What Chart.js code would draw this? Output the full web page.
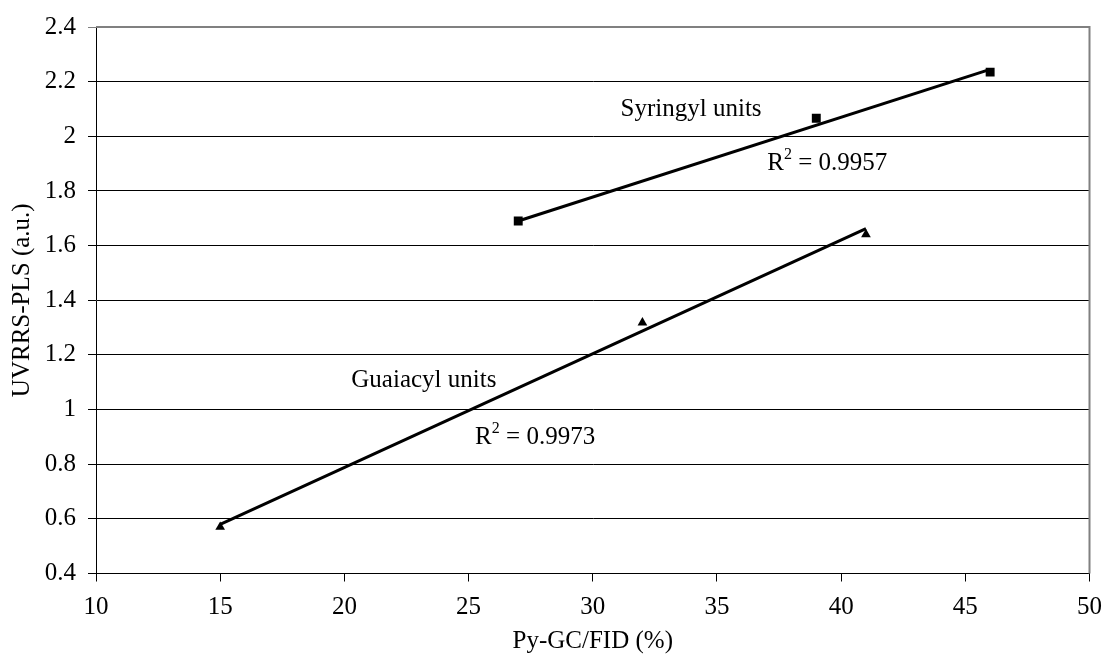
<!DOCTYPE html>
<html>
<head>
<meta charset="utf-8">
<script src="https://cdn.jsdelivr.net/npm/chart.js@4"></script>
<style>
  body { margin: 0; background: #fff; }
  #wrap { width: 1113px; height: 667px; }
</style>
</head>
<body>
<div id="wrap"><canvas id="myChart"></canvas></div>
<script>
// values
const syringylX = [27, 39, 46];
const syringylY = [1.69, 2.066, 2.235];
const guaiacylX = [15, 32, 41];
const guaiacylY = [0.57, 1.318, 1.641];

// linear trend lines (end points as seen on the picture)
const syringylFitX = [27, 46];
const syringylFitY = [1.69, 2.245];
const guaiacylFitX = [15, 41];
const guaiacylFitY = [0.58, 1.662];

const xMin = 10, xMax = 50, xStep = 5;
const yMin = 0.4, yMax = 2.4, yStep = 0.2;

const xTitle = 'Py-GC/FID (%)';
const yTitle = 'UVRRS-PLS (a.u.)';

// text labels in the plot, in data units
const notes = [
  { x: 33.96, y: 2.099, text: 'Syringyl units' },
  { x: 39.44, y: 1.899, r2: '0.9957' },
  { x: 23.2, y: 1.105, text: 'Guaiacyl units' },
  { x: 27.68, y: 0.897, r2: '0.9973' }
];

const FONT = 'Liberation Serif, Times New Roman, serif';

function pts(xs, ys) {
  return xs.map((x, i) => ({ x: x, y: ys[i] }));
}

const notesPlugin = {
  id: 'notes',
  afterDatasetsDraw(chart) {
    const ctx = chart.ctx;
    const sx = chart.scales.x, sy = chart.scales.y;
    ctx.save();
    ctx.fillStyle = '#000';
    ctx.textBaseline = 'middle';
    ctx.textAlign = 'left';
    notes.forEach(n => {
      const px = sx.getPixelForValue(n.x);
      const py = sy.getPixelForValue(n.y);
      const big = '25px ' + FONT, small = '16px ' + FONT;
      if (n.text) {
        ctx.font = big;
        const w = ctx.measureText(n.text).width;
        ctx.fillText(n.text, px - w / 2, py);
      } else {
        const rest = ' = ' + n.r2;
        ctx.font = big;
        const wR = ctx.measureText('R').width;
        const wRest = ctx.measureText(rest).width;
        ctx.font = small;
        const w2 = ctx.measureText('2').width;
        let x0 = px - (wR + w2 + wRest) / 2;
        ctx.font = big;
        ctx.fillText('R', x0, py);
        ctx.font = small;
        ctx.fillText('2', x0 + wR, py - 9);
        ctx.font = big;
        ctx.fillText(rest, x0 + wR + w2, py);
      }
    });
    ctx.restore();
  }
};

const frame = {
  id: 'frame',
  beforeDatasetsDraw(chart) {
    const a = chart.chartArea;
    const ctx = chart.ctx;
    ctx.save();
    ctx.strokeStyle = '#808080';
    ctx.lineWidth = 2;
    ctx.beginPath();
    ctx.moveTo(a.left, a.top);
    ctx.lineTo(a.right, a.top);
    ctx.lineTo(a.right, a.bottom);
    ctx.stroke();
    ctx.restore();
  }
};

const data = {
  datasets: [
    {
      label: 'Syringyl',
      data: pts(syringylX, syringylY),
      showLine: false,
      pointStyle: 'rect',
      pointRadius: 6.3,
      backgroundColor: '#000',
      borderColor: '#000',
      borderWidth: 0
    },
    {
      label: 'Guaiacyl',
      data: pts(guaiacylX, guaiacylY),
      showLine: false,
      pointStyle: 'triangle',
      pointRadius: 5.6,
      backgroundColor: '#000',
      borderColor: '#000',
      borderWidth: 0
    },
    {
      label: 'Syringyl fit',
      data: pts(syringylFitX, syringylFitY),
      showLine: true,
      pointRadius: 0,
      borderColor: '#000',
      borderWidth: 3
    },
    {
      label: 'Guaiacyl fit',
      data: pts(guaiacylFitX, guaiacylFitY),
      showLine: true,
      pointRadius: 0,
      borderColor: '#000',
      borderWidth: 3
    }
  ]
};

const config = {
  type: 'scatter',
  data: data,
  options: {
    responsive: true,
    maintainAspectRatio: false,
    animation: false,
    layout: { padding: { top: 24, right: 16, left: 0, bottom: 0 } },
    plugins: {
      legend: { display: false },
      tooltip: { enabled: false }
    },
    scales: {
      x: {
        type: 'linear',
        min: xMin,
        max: xMax,
        afterFit: s => { s.height = 93.5; },
        ticks: {
          stepSize: xStep,
          color: '#000',
          padding: 11,
          font: { family: FONT, size: 25 }
        },
        grid: {
          drawOnChartArea: false,
          drawTicks: true,
          tickLength: 8,
          color: '#000'
        },
        border: { color: '#000', width: 1 },
        title: {
          display: true,
          text: xTitle,
          color: '#000',
          font: { family: FONT, size: 25 },
          padding: { top: 0, bottom: 11 }
        }
      },
      y: {
        type: 'linear',
        min: yMin,
        max: yMax,
        afterFit: s => { s.width = 96; },
        ticks: {
          stepSize: yStep,
          color: '#000',
          padding: 12,
          font: { family: FONT, size: 25 },
          callback: v => String(Math.round(v * 10) / 10)
        },
        grid: {
          drawTicks: true,
          tickLength: 8,
          color: c => (c.tick && Math.abs(c.tick.value - yMax) < 1e-6) ? '#808080' : '#000'
        },
        border: { color: '#000', width: 1 },
        title: {
          display: true,
          text: yTitle,
          color: '#000',
          font: { family: FONT, size: 25 },
          padding: { top: 7, bottom: 0 }
        }
      }
    }
  },
  plugins: [frame, notesPlugin]
};

const myChart = new Chart(document.getElementById('myChart'), config);
</script>
</body>
</html>
